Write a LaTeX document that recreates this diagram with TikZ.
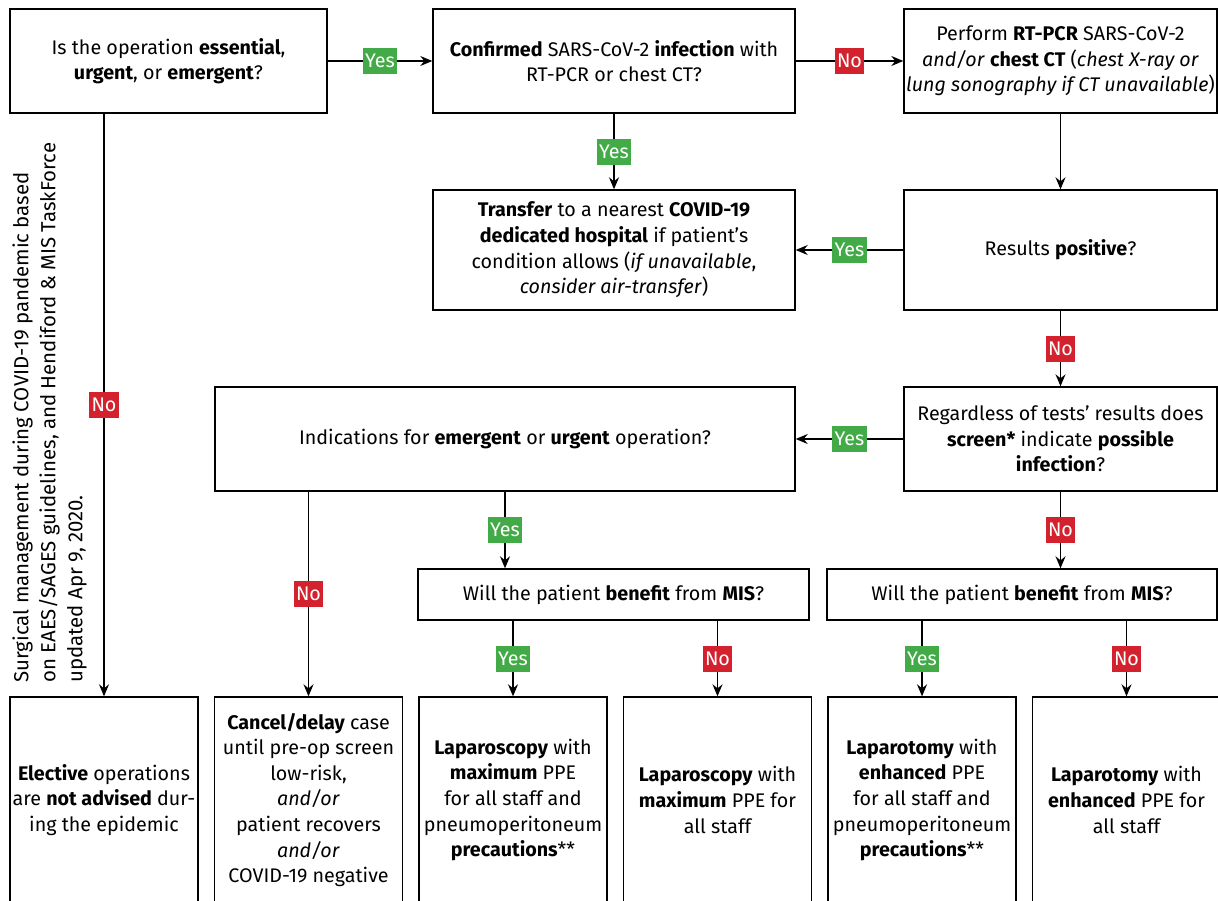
\documentclass[tikz,border=0pt]{standalone}
\usepackage{fontspec}
\setmainfont{Fira Sans}
\usetikzlibrary{arrows.meta, positioning}
\definecolor{yesgreen}{RGB}{67,170,72}
\definecolor{nored}{RGB}{211,33,45}

\begin{document}
\begin{tikzpicture}[x=0.5pt, y=-0.5pt, font=\fontsize{9.85pt}{12.8pt}\selectfont]
    \tikzstyle{qbox} = [rectangle, draw, line width=0.7pt, align=center,
        inner xsep=0.5pt, inner ysep=1pt, minimum height=52pt]
    \tikzstyle{endbox} = [qbox, inner xsep=0pt, minimum width=94pt, minimum height=103pt]
    \tikzstyle{line} = [draw, -{Stealth[length=6pt, width=5pt, inset=2pt]}, line width=0.6pt]
    \tikzstyle{yeslab} = [fill=yesgreen, text=white, inner xsep=1.2pt,
        inner ysep=0pt, minimum height=13pt]
    \tikzstyle{nolab} = [yeslab, fill=nored]

    \useasboundingbox (0,0) rectangle (1218,900);

    \node [qbox, minimum width=158.5pt] (essential) at (168.5,61)
        {Is the operation \textbf{essential},\\ \textbf{urgent}, or \textbf{emergent}?};
    \node [qbox, minimum width=181pt, right=52.3pt of essential] (confirmed)
        {\textbf{Confirmed} SARS-CoV-2 \textbf{infection} with\\ RT-PCR or chest CT?};
    \node [qbox, minimum width=156.5pt, right=53.8pt of confirmed] (perform)
        {Perform \textbf{RT-PCR} SARS-CoV-2\\ \textit{and/or} \textbf{chest CT} (\textit{chest X-ray or}\\
         \textit{lung sonography if CT unavailable})};
    \node [qbox, minimum width=181pt, minimum height=60pt, below=37.8pt of confirmed] (transfer)
        {\textbf{Transfer} to a nearest \textbf{COVID-19}\\ \textbf{dedicated hospital} if patient's\\
         condition allows (\textit{if unavailable},\\ \textit{consider air-transfer})};
    \node [qbox, minimum width=156.5pt, minimum height=60pt, below=37.8pt of perform] (positive)
        {Results \textbf{positive}?};
    \node [qbox, minimum width=156.5pt, below=37.8pt of positive] (screen)
        {Regardless of tests' results does\\ \textbf{screen*} indicate \textbf{possible}\\ \textbf{infection}?};
    \node [qbox, minimum width=290pt, below=37.8pt of transfer.south east, anchor=north east] (indication)
        {Indications for \textbf{emergent} or \textbf{urgent} operation?};
    \node [qbox, minimum width=195.5pt, minimum height=25.5pt,
        below=38.3pt of indication.south east, anchor=north east, xshift=7pt] (misA)
        {Will the patient \textbf{benefit} from \textbf{MIS}?};
    \node [qbox, minimum width=195pt, minimum height=25.5pt,
        below=38.3pt of screen.south east, anchor=north east] (misB)
        {Will the patient \textbf{benefit} from \textbf{MIS}?};

    % outcomes
    \node [endbox] (elective) at (104,800)
        {\textbf{Elective} operations\\ are \textbf{not advised} dur-\\ ing the epidemic};
    \node [endbox, right=7.55pt of elective] (cancel)
        {\textbf{Cancel/delay} case\\ until pre-op screen\\ low-risk,\\ \textit{and/or}\\
         patient recovers\\ \textit{and/or}\\ COVID-19 negative};
    \node [endbox, right=7.55pt of cancel] (lapA)
        {\textbf{Laparoscopy} with\\ \textbf{maximum} PPE\\ for all staff and\\
         pneumoperitoneum\\ \textbf{precautions}**};
    \node [endbox, right=7.55pt of lapA] (lapB)
        {\textbf{Laparoscopy} with\\ \textbf{maximum} PPE for\\ all staff};
    \node [endbox, right=7.55pt of lapB] (lapC)
        {\textbf{Laparotomy} with\\ \textbf{enhanced} PPE\\ for all staff and\\
         pneumoperitoneum\\ \textbf{precautions}**};
    \node [endbox, right=7.55pt of lapC] (lapD)
        {\textbf{Laparotomy} with\\ \textbf{enhanced} PPE for\\ all staff};

    \node [rotate=90, anchor=north west, align=left, inner sep=0pt,
        font=\fontsize{10.2pt}{13.5pt}\selectfont] (note) at (12,683)
        {Surgical management during COVID-19 pandemic based\\
         on EAES/SAGES guidelines, and Hendiford \& MIS TaskForce\\
         updated Apr 9, 2020.};

    \path [line] (essential) -- node [yeslab] {Yes} (confirmed);
    \path [line] (confirmed) -- node [nolab] {No} (perform);
    \path [line] (confirmed) -- node [yeslab] {Yes} (transfer);
    \path [line] (perform) -- (positive);
    \path [line] (positive) -- node [yeslab] {Yes} (transfer);
    \path [line] (positive) -- node [nolab] {No} (screen);
    \path [line] (screen) -- node [yeslab] {Yes} (indication);
    \path [line] (screen) -- node [nolab] {No} (screen.south |- misB.north);
    \path [line] (indication) -- node [yeslab] {Yes} (indication.south |- misA.north);
    \path [line] (indication.south -| cancel.north) -- node [nolab] {No} (cancel);
    \path [line] (essential.south -| elective.north) -- node [nolab] {No} (elective);
    \path [line] (misA.south -| lapA.north) -- node [yeslab] {Yes} (lapA);
    \path [line] (misA.south -| lapB.north) -- node [nolab] {No} (lapB);
    \path [line] (misB.south -| lapC.north) -- node [yeslab] {Yes} (lapC);
    \path [line] (misB.south -| lapD.north) -- node [nolab] {No} (lapD);
\end{tikzpicture}
\end{document}
